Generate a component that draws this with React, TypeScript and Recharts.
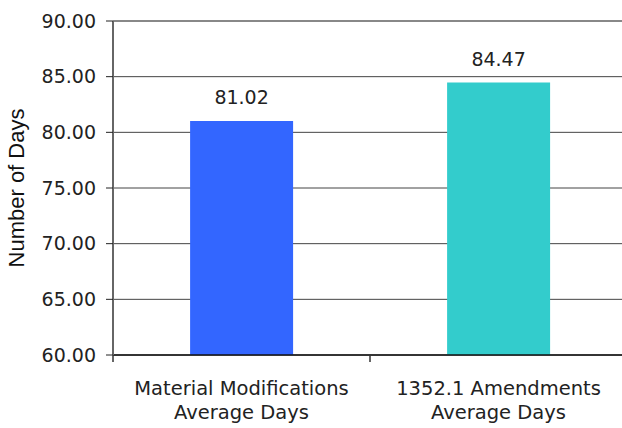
import React from "react";
import {
  Bar,
  BarChart,
  CartesianGrid,
  Cell,
  LabelList,
  ReferenceLine,
  XAxis,
  YAxis,
} from "recharts";

const CATEGORIES = ["Material Modifications|Average Days", "1352.1 Amendments|Average Days"];
const AVG_DAYS = [81.02, 84.47];
const BAR_COLORS = ["#3366FF", "#33CCCC"];
const Y_TICKS = [60, 65, 70, 75, 80, 85, 90];

const data = CATEGORIES.map((name, i) => ({ name, days: AVG_DAYS[i] }));

const FONT = "'DejaVu Sans', Verdana, sans-serif";

function CategoryTick(props: any) {
  const { x, y, payload } = props;
  const lines = String(payload.value).split("|");
  const half = payload?.offset ?? 0;
  return (
    <g>
      <line x1={x - half} x2={x - half} y1={y} y2={y + 7} stroke="#333" strokeWidth={1.5} />
      <text x={x} y={y} textAnchor="middle" fontFamily={FONT} fontSize={19.5} fill="#222">
        {lines.map((l: string, i: number) => (
          <tspan key={i} x={x} dy={i === 0 ? 40 : 24}>
            {l}
          </tspan>
        ))}
      </text>
    </g>
  );
}

function YTitle(props: any) {
  const { viewBox } = props;
  const cy = viewBox.y + viewBox.height / 2;
  const cx = 16;
  return (
    <text
      x={cx}
      y={cy}
      transform={`rotate(-90 ${cx} ${cy})`}
      textAnchor="middle"
      dominantBaseline="central"
      fontFamily="'Liberation Sans', Arial, sans-serif"
      fontSize={22}
      fill="#111"
    >
      Number of Days
    </text>
  );
}

export default function App() {
  return (
    <div style={{ position: "absolute", left: 0, top: 0, width: 622, height: 428, overflow: "hidden", background: "#fff" }}>
      <BarChart
        width={640}
        height={428}
        data={data}
        margin={{ top: 21, right: 13, left: 0, bottom: 0 }}
        barCategoryGap="30%"
      >
        <CartesianGrid vertical={false} stroke="#444" strokeWidth={1} />
        <XAxis
          dataKey="name"
          height={73}
          tickLine={false}
          tickSize={0}
          tickMargin={0}
          axisLine={{ stroke: "#111", strokeWidth: 1.5 }}
          tick={<CategoryTick />}
          interval={0}
        />
        <YAxis
          domain={[60, 90]}
          ticks={Y_TICKS}
          width={113}
          tickSize={7}
          tickMargin={10}
          tickLine={{ stroke: "#222" }}
          axisLine={{ stroke: "#666", strokeWidth: 2 }}
          tickFormatter={(v: number) => v.toFixed(2)}
          tick={{ fontFamily: FONT, fontSize: 19, fill: "#222" }}
          label={<YTitle />}
        />
        <ReferenceLine y={90} stroke="#888" strokeWidth={2} />
        <Bar dataKey="days" isAnimationActive={false}>
          {data.map((d, i) => (
            <Cell key={d.name} fill={BAR_COLORS[i]} />
          ))}
          <LabelList
            dataKey="days"
            position="top"
            offset={17}
            formatter={(v: number) => v.toFixed(2)}
            style={{ fontFamily: FONT, fontSize: 19, fill: "#222" }}
          />
        </Bar>
      </BarChart>
    </div>
  );
}
